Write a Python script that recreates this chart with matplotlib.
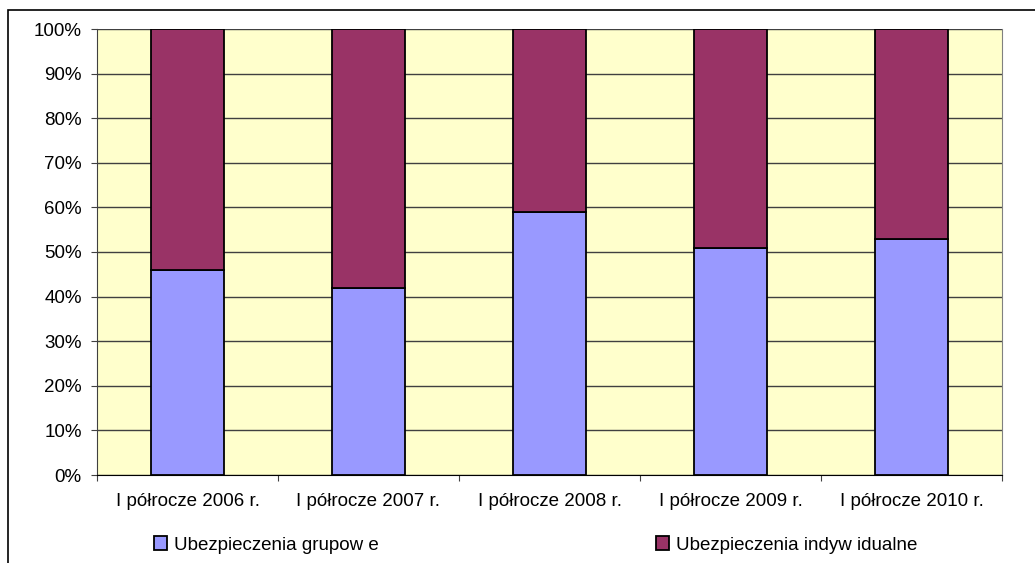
import matplotlib.pyplot as plt
from matplotlib.patches import Rectangle
from matplotlib.ticker import PercentFormatter

plt.rcParams["font.family"] = ["Liberation Sans", "DejaVu Sans"]

categories = ["I półrocze 2006 r.", "I półrocze 2007 r.", "I półrocze 2008 r.",
              "I półrocze 2009 r.", "I półrocze 2010 r."]
grupowe = [46, 42, 59, 51, 53]
indywidualne = [54, 58, 41, 49, 47]

BLUE = "#9999FF"
MAROON = "#993366"
BG = "#FFFFCC"
FS = 13.5

W, H = 1035, 563
fig = plt.figure(figsize=(W / 100, H / 100), dpi=100)
ax = fig.add_axes([97 / W, 1 - 475 / H, 905 / W, 446 / H])
ax.set_facecolor(BG)

# ramka wykresu (wychodzi poza prawą i dolną krawędź obrazka)
fig.add_artist(Rectangle((8 / W, -0.5), 2.0, 1.5 - 10 / H, transform=fig.transFigure,
                         fill=False, edgecolor="black", linewidth=1.2, clip_on=False))

x = list(range(len(categories)))
b1 = ax.bar(x, grupowe, width=0.4, color=BLUE, edgecolor="black", linewidth=1.3,
            label="Ubezpieczenia grupow e", zorder=3)
b2 = ax.bar(x, indywidualne, width=0.4, bottom=grupowe, color=MAROON, edgecolor="black",
            linewidth=1.3, label="Ubezpieczenia indyw idualne", zorder=3)

ax.set_xlim(-0.5, len(categories) - 0.5)
ax.set_ylim(0, 100)
ax.set_yticks(range(0, 101, 10))
ax.yaxis.set_major_formatter(PercentFormatter(decimals=0))
ax.grid(axis="y", color="#404040", linewidth=1.0, zorder=1)

ax.set_xticks([i - 0.5 for i in range(len(categories) + 1)])
ax.set_xticklabels([])
ax.set_xticks(x, minor=True)
ax.set_xticklabels(categories, minor=True)
ax.tick_params(axis="x", which="major", direction="out", length=4, color="#404040")
ax.tick_params(axis="x", which="minor", length=0, pad=13, labelsize=FS)
ax.tick_params(axis="y", direction="out", length=4, color="#404040", pad=7, labelsize=FS)

ax.spines["top"].set_visible(False)
ax.spines["right"].set_color("#808080")
ax.spines["left"].set_color("#404040")
ax.spines["bottom"].set_color("black")

# dwie osobne legendy, żeby ustawić je jak w oryginale
leg_kw = dict(frameon=False, fontsize=FS, handlelength=0.7, handleheight=0.7,
              handletextpad=0.4, borderaxespad=0, loc="center left")
fig.legend(handles=[b1], bbox_to_anchor=(146 / W, 1 - 545 / H), **leg_kw)
fig.legend(handles=[b2], bbox_to_anchor=(648 / W, 1 - 545 / H), **leg_kw)

fig.savefig("out.png", dpi=100)
